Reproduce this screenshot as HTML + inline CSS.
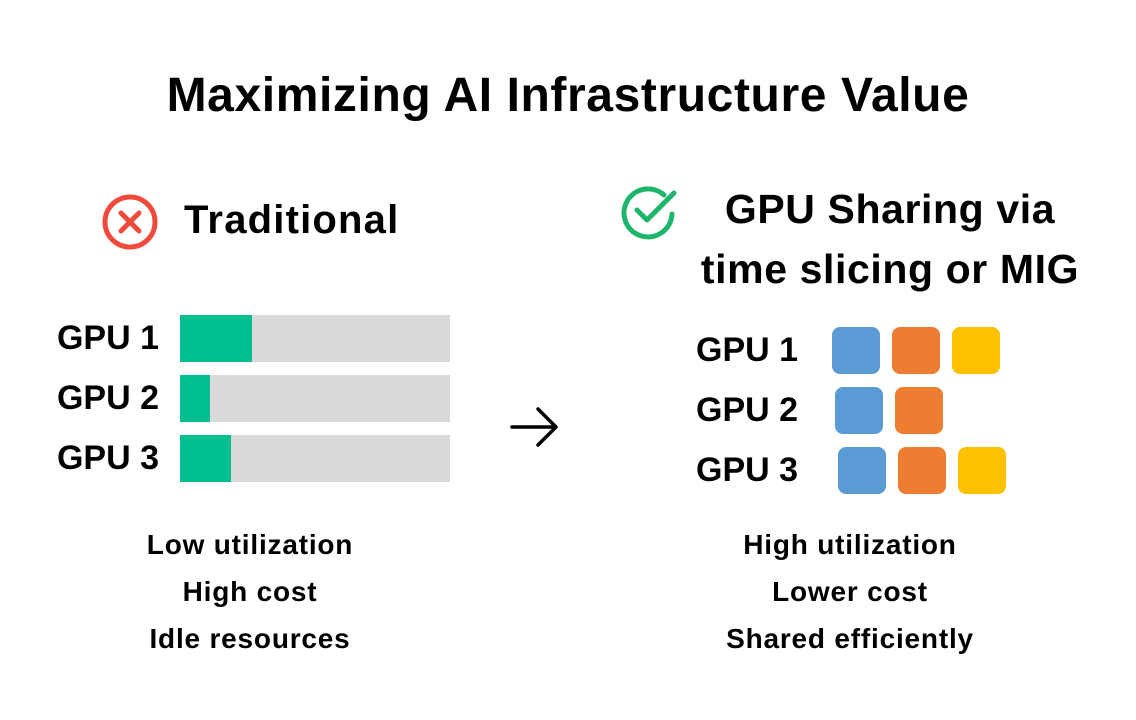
<!DOCTYPE html>
<html><head><style>
body{margin:0;width:1136px;height:720px;background:#fff;font-family:"Liberation Sans",sans-serif;color:#000;position:relative;overflow:hidden}
.t{position:absolute;white-space:nowrap;font-weight:bold}
.c{transform:translateX(-50%);text-align:center}
.bar{position:absolute;left:180px;width:270px;height:47px;background:#d9d9d9}
.bar i{position:absolute;left:0;top:0;bottom:0;background:#02bf8f}
.sq{position:absolute;width:48px;height:47px;border-radius:8px}
.b{background:#5b9bd5}.o{background:#ed7d31}.y{background:#ffc000}
.lab{font-size:34px;letter-spacing:0px}
.ft{font-size:28px;line-height:47px;letter-spacing:0.8px}
</style></head><body>
<div class="t c" style="left:568px;top:68px;font-size:48px;letter-spacing:0.6px">Maximizing AI Infrastructure Value</div>
<svg style="position:absolute;left:100px;top:192px" width="60" height="60"><circle cx="30" cy="30" r="25" fill="none" stroke="#ef4a3b" stroke-width="5"/><path d="M21 21L39 39M39 21L21 39" stroke="#ef4a3b" stroke-width="5" stroke-linecap="round"/></svg>
<div class="t" style="left:184px;top:198px;font-size:40px;letter-spacing:1.2px">Traditional</div>
<svg style="position:absolute;left:618px;top:182px" width="64" height="60"><path d="M54 32 A24 24 0 1 1 46 13" fill="none" stroke="#1db56c" stroke-width="5" stroke-linecap="round"/><path d="M19 28L29 38L56 11" fill="none" stroke="#1db56c" stroke-width="5" stroke-linecap="round" stroke-linejoin="round"/></svg>
<div class="t c" style="left:890px;top:179px;font-size:41px;line-height:60px;letter-spacing:0.6px">GPU Sharing via<br>time slicing or MIG</div>
<div class="t lab" style="right:977px;top:319px">GPU 1</div>
<div class="t lab" style="right:977px;top:379px">GPU 2</div>
<div class="t lab" style="right:977px;top:439px">GPU 3</div>
<div class="bar" style="top:315px"><i style="width:72px"></i></div>
<div class="bar" style="top:375px"><i style="width:30px"></i></div>
<div class="bar" style="top:435px"><i style="width:51px"></i></div>
<svg style="position:absolute;left:508px;top:405px" width="54" height="44"><path d="M4 22H48M30 4L48 22L30 40" fill="none" stroke="#000" stroke-width="3.5" stroke-linecap="round" stroke-linejoin="round"/></svg>
<div class="t lab" style="left:696px;top:331px">GPU 1</div>
<div class="t lab" style="left:696px;top:391px">GPU 2</div>
<div class="t lab" style="left:696px;top:451px">GPU 3</div>
<div class="sq b" style="left:832px;top:327px"></div><div class="sq o" style="left:892px;top:327px"></div><div class="sq y" style="left:952px;top:327px"></div>
<div class="sq b" style="left:835px;top:387px"></div><div class="sq o" style="left:895px;top:387px"></div>
<div class="sq b" style="left:838px;top:447px"></div><div class="sq o" style="left:898px;top:447px"></div><div class="sq y" style="left:958px;top:447px"></div>
<div class="t c ft" style="left:250px;top:521px">Low utilization<br>High cost<br>Idle resources</div>
<div class="t c ft" style="left:850px;top:521px">High utilization<br>Lower cost<br>Shared efficiently</div>
</body></html>
